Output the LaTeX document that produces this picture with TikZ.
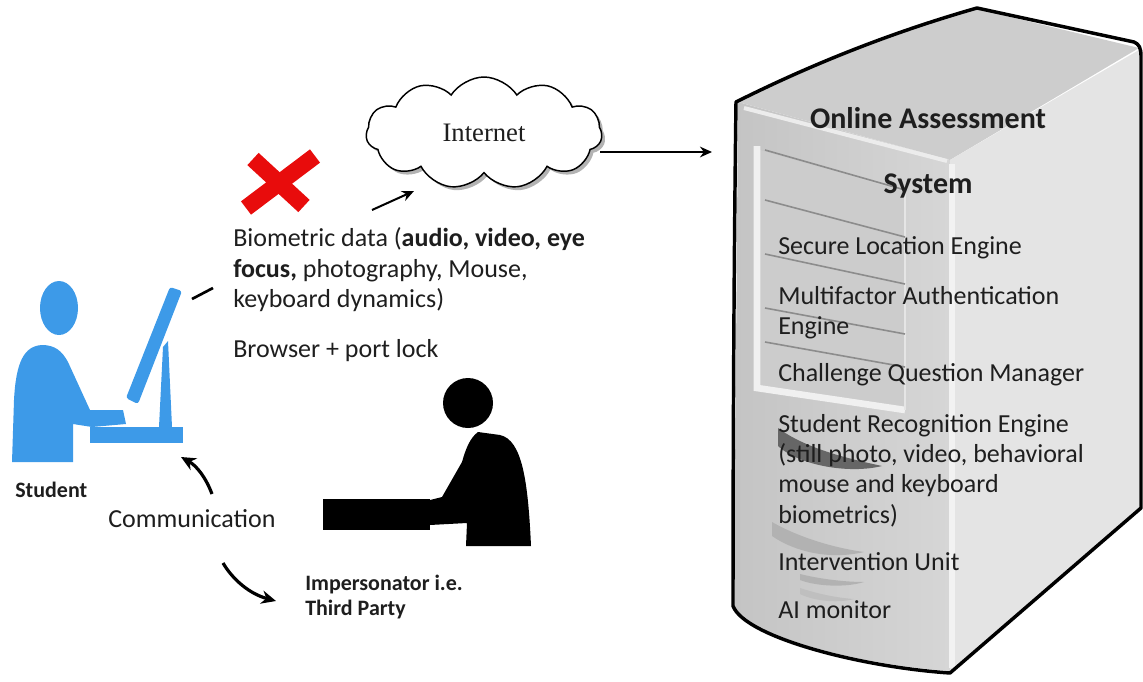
\documentclass[tikz,border=0pt]{standalone}
\usepackage{fontspec}
\setmainfont{Carlito}
\newfontfamily\cloudfont{Liberation Serif}
\usetikzlibrary{shapes.symbols,shadows,arrows.meta}

\definecolor{stublue}{RGB}{61,154,232}
\definecolor{txt}{RGB}{30,30,30}
\definecolor{xred}{RGB}{232,12,12}
\definecolor{srvtop}{RGB}{205,205,205}
\definecolor{srvside}{RGB}{228,228,228}
\definecolor{srvfrontA}{RGB}{196,196,196}
\definecolor{srvfrontB}{RGB}{214,214,214}

\tikzset{
  body/.style={font=\fontsize{19.5}{23}\selectfont, text=txt, inner sep=0pt, anchor=base west},
  title/.style={font=\bfseries\fontsize{22.5}{27}\selectfont, text=txt, inner sep=0pt, anchor=base},
  tag/.style={font=\bfseries\fontsize{16.5}{20}\selectfont, text=txt, inner sep=0pt, anchor=base west},
  flow/.style={-{Stealth[length=9pt,width=8pt]}, line width=1.5pt},
  commarrow/.style={-{Stealth[length=11pt,width=10pt]}, line width=2.4pt},
  redstroke/.style={draw=xred, line width=12.5pt, line cap=butt},
}

\begin{document}
\begin{tikzpicture}[x=0.75pt,y=-0.75pt]
\useasboundingbox (0,0) rectangle (1143,682);

% ---------------- server tower ----------------
% front face
\shade[left color=srvfrontA, right color=srvfrontB]
  (738,102) -- (950,160) -- (950,671)
  .. controls (860,665) and (745,635) .. (734,606) -- cycle;
% top face
\fill[srvtop] (738,102) .. controls (820,60) and (900,30) .. (977,9)
  -- (1139,48) -- (950,160) -- cycle;
% right face
\fill[srvside] (950,160) -- (1139,50) -- (1139,508) -- (950,671) -- cycle;
% highlights along the front edges
\draw[white!85!gray, line width=3pt] (744,108) -- (947,161);
\draw[white!90!gray, line width=4pt] (952,164) -- (952,668);
% drive bay panel
\fill[black!20] (760,150) -- (905,192) -- (905,408) -- (760,386) -- cycle;
\draw[white!88!gray, line width=5pt] (757,146) -- (757,388) -- (905,410);
\draw[white!80!gray, line width=2pt] (905,190) -- (905,410);
\foreach \yl/\yr in {150/190, 200/237, 254/284, 308/334, 342/367}
  \draw[black!45, line width=1.2pt] (765,\yl) -- (905,\yr);
% bay light shadows
\fill[black!60] (778,428) .. controls (805,448) and (845,458) .. (882,466)
  .. controls (850,474) and (800,466) .. (778,446) -- cycle;
\fill[black!30] (772,522) .. controls (800,538) and (835,548) .. (864,552)
  .. controls (830,560) and (795,552) .. (772,536) -- cycle;
\fill[black!30] (800,574) .. controls (820,579) and (845,582) .. (864,582)
  .. controls (845,588) and (815,586) .. (800,580) -- cycle;
\fill[black!25] (800,588) .. controls (818,594) and (838,598) .. (854,599)
  .. controls (835,604) and (812,600) .. (800,594) -- cycle;
% outline
\draw[black, line width=2.6pt, line join=round]
  (736,102) .. controls (820,60) and (900,30) .. (977,8)
  -- (1134,42) .. controls (1139,44) and (1141,48) .. (1141,56)
  -- (1141,508) -- (950,673)
  .. controls (860,667) and (745,637) .. (733,606)
  .. controls (733,450) and (734,250) .. (736,102) -- cycle;

% server texts
\node[title] (srvtitle) at (928,128) {Online Assessment};
\node[title] (srvsys) at (928,193) {System};
\node[body] (itemA) at (778,254) {Secure Location Engine};
\node[body] (itemB) at (778,304) {Multifactor Authentication};
\node[body] (itemBb) at (778,334) {Engine};
\node[body] (itemC) at (778,381) {Challenge Question Manager};
\node[body] (itemD) at (778,432) {Student Recognition Engine};
\node[body] (itemDb) at (778,462) {(still photo, video, behavioral};
\node[body] (itemDc) at (778,492) {mouse and keyboard};
\node[body] (itemDd) at (778,523) {biometrics)};
\node[body] (itemE) at (778,570) {Intervention Unit};
\node[body] (itemF) at (778,618) {AI monitor};

% ---------------- internet cloud ----------------
\node[cloud, cloud puffs=11, cloud puff arc=115, aspect=2.2, draw=black,
      line width=1.1pt, fill=white, minimum width=177pt, minimum height=84pt,
      drop shadow={shadow xshift=2.5pt, shadow yshift=-2.5pt, opacity=0.6},
      font=\cloudfont\fontsize{20}{24}\selectfont, text=txt]
  (cloud) at (484,133) {Internet};

\coordinate (cloudOut) at (600,152);
\coordinate (srvIn) at (712,152);
\draw[flow] (cloudOut) -- (srvIn);

% ---------------- biometric data text ----------------
\node[body] (bioA) at (233,246) {Biometric data (\textbf{audio, video, eye}};
\node[body] (bioB) at (233,277) {\textbf{focus,} photography, Mouse,};
\node[body] (bioC) at (233,307) {keyboard dynamics)};
\node[body] (browser) at (233,357) {Browser + port lock};

\coordinate (bioTip) at (372,210);
\coordinate (cloudIn) at (414,191);
\draw[flow] (bioTip) -- (cloudIn);

% red cross
\draw[redstroke] (315,156) -- (246,208);
\draw[redstroke] (253,159) -- (304,206);

% ---------------- student ----------------
\fill[stublue] (59,308) ellipse [x radius=19, y radius=27];
\fill[stublue] (12,462) -- (14,400)
  .. controls (16,362) and (24,346) .. (42,345)
  .. controls (55,345) and (62,351) .. (68,362)
  -- (90,410) -- (123,410) -- (126,424) -- (92,427) -- (73,424)
  -- (73,462) -- cycle;
\fill[stublue] (90,427) rectangle (183,443);
\fill[stublue, rounded corners=2pt] (126,398) -- (170,287) -- (182,291) -- (138,404) -- cycle;
\fill[stublue] (163,347) -- (168,341) -- (172,427) -- (159,427) -- cycle;
\node[tag] (student) at (15,497) {Student};
\coordinate (link) at (192,299);
\draw[black, line width=2pt] (link) -- (213,288);

% ---------------- impersonator ----------------
\fill[black] (468,403) circle [radius=25];
\fill[black] (478,432) -- (500,435)
  .. controls (522,440) and (528,480) .. (531,546)
  -- (466,546) -- (467,523) -- (430,525) -- (430,500) -- (442,497)
  -- (462,462) .. controls (466,448) and (470,438) .. (478,432) -- cycle;
\fill[black] (323,499) rectangle (430,530);
\node[tag] (imp) at (305,590) {Impersonator i.e.};
\node[tag] (imp2) at (305,615) {Third Party};

% ---------------- communication ----------------
\node[body] (comm) at (108,527) {Communication};
\coordinate (commUpStart) at (212,494);
\coordinate (studentIn) at (181,457);
\draw[commarrow] (commUpStart) .. controls (206,478) and (197,466) .. (studentIn);
\coordinate (commDnStart) at (223,563);
\coordinate (impIn) at (276,601);
\draw[commarrow] (commDnStart) .. controls (233,580) and (250,594) .. (impIn);

\end{tikzpicture}
\end{document}
